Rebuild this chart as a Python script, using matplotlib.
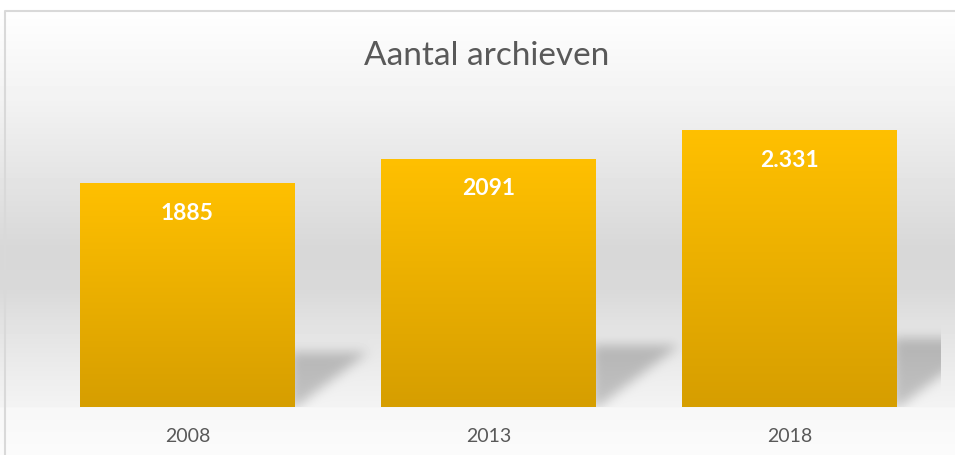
import numpy as np
import matplotlib
matplotlib.use('Agg')
import matplotlib.pyplot as plt

# data
years = ['2008', '2013', '2018']
aantal = [1885, 2091, 2331]
labels = ['1885', '2091', '2.331']

W, H = 955, 455
FONT = ['Lato', 'DejaVu Sans']

fig = plt.figure(figsize=(W / 100, H / 100), dpi=100)

# plot area in pixels (top-left origin)
left, right, top, base = 37, 940, 110, 407
ax = fig.add_axes([left / W, 1 - base / H, (right - left) / W, (base - top) / H])
ax.set_xlim(-0.5, 2.5)
ax.set_ylim(0, 2500)
ax.axis('off')
ax.patch.set_alpha(0)

x = np.arange(len(years))
bars = ax.bar(x, aantal, width=0.713, color='none', edgecolor='none', zorder=3)

# bar gradient (per bar, top -> bottom)
grad = np.linspace(0, 1, 256).reshape(-1, 1)
c_top = np.array([255, 192, 0]) / 255
c_bot = np.array([214, 158, 0]) / 255
bar_img = c_top + (c_bot - c_top) * grad[..., None]
for b in bars:
    x0, y0 = b.get_x(), b.get_y()
    im = ax.imshow(bar_img, extent=(x0, x0 + b.get_width(), y0, y0 + b.get_height()),
                   aspect='auto', origin='upper', zorder=3)
    im.set_clip_path(b)
ax.set_xlim(-0.5, 2.5)
ax.set_ylim(0, 2500)

for b, lab in zip(bars, labels):
    ax.annotate(lab, (b.get_x() + b.get_width() / 2, b.get_height()),
                xytext=(0, -30), textcoords='offset pixels', ha='center', va='center',
                color='white', fontsize=16.5, fontweight='bold', family=FONT, zorder=4)

for xi, yr in zip(x, years):
    ax.annotate(yr, (xi, 0), xytext=(0, -29), textcoords='offset pixels',
                ha='center', va='center', color='#595959', fontsize=14, family=FONT)

# background: chart gradient + bar shadows
rows = np.arange(H)
chart = np.interp(rows, [0, 11, 100, 250, 290, 320, 380, 406, 408, 455],
                  [255, 255, 243, 216, 218, 226, 239, 244, 248, 252])
bg = np.repeat(chart[:, None], W, axis=1).astype(float)
cols = np.arange(W)
in_plot = (rows[:, None] >= top) & (rows[:, None] < base) & (cols[None, :] >= left) & (cols[None, :] < right)

fig.canvas.draw()
mask = np.zeros((H, W))
yy, xx = np.mgrid[0:H, 0:W]
for b in bars:
    rx, by = ax.transData.transform((b.get_x() + b.get_width(), 0))
    _, ty = ax.transData.transform((0, b.get_height()))
    R = rx
    B = H - by
    h = ty - by
    s = 0.25 * h
    L = 0.33 * h
    inside = (xx >= R - 5) & (yy <= B) & (yy >= B - s) & ((xx - R) <= L * (B - yy) / s)
    mask[inside] = 1.0


def box_blur(a, r):
    k = np.ones(2 * r + 1) / (2 * r + 1)
    a = np.apply_along_axis(lambda m: np.convolve(m, k, mode='same'), 0, a)
    a = np.apply_along_axis(lambda m: np.convolve(m, k, mode='same'), 1, a)
    return a


for _ in range(3):
    mask = box_blur(mask, 5)
mask = mask * in_plot
bg = bg - 50 * mask

bgax = fig.add_axes([0, 0, 1, 1], zorder=-1)
bgax.imshow(np.clip(bg, 0, 255).astype(np.uint8), cmap='gray', vmin=0, vmax=255,
            extent=(0, W, H, 0), aspect='auto', interpolation='nearest')
bgax.set_xlim(0, W)
bgax.set_ylim(H, 0)
bgax.axis('off')

# chart frame (cropped on right and bottom)
bgax.plot([5, 5, W + 5], [H + 5, 11, 11], color='#D9D9D9', lw=1.5)

fig.text(487 / W, 1 - 56 / H, 'Aantal archieven', ha='center', va='center',
         fontsize=24, color='#595959', family=FONT)

fig.savefig('out.png', dpi=100)
